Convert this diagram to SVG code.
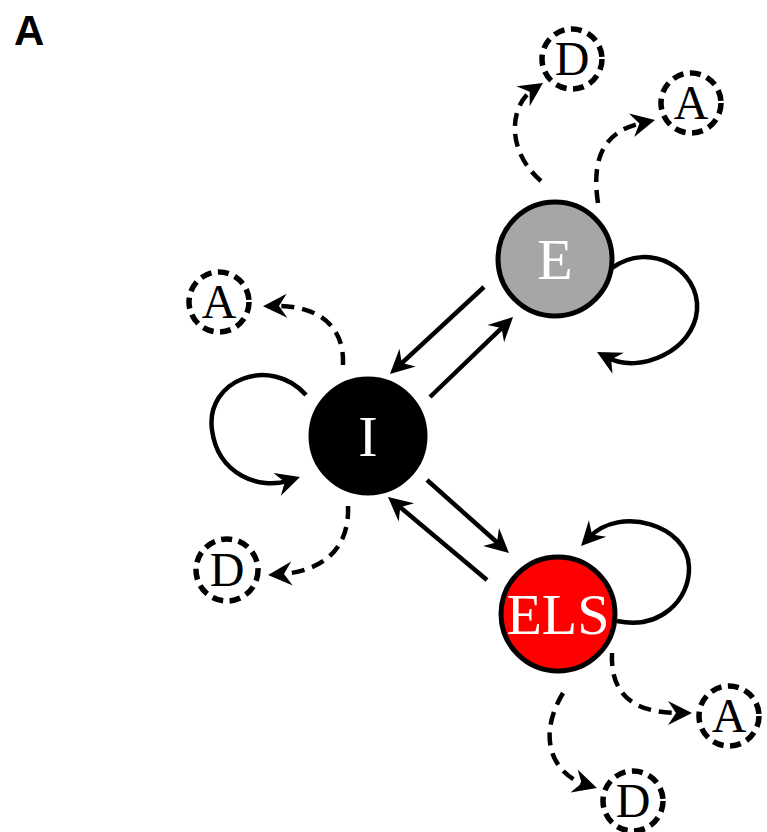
<svg xmlns="http://www.w3.org/2000/svg" width="767" height="832" viewBox="0 0 767 832">
  <style>
    .state { stroke: #000; stroke-width: 5; }
    .state-label { font-family: "Liberation Serif", "Times New Roman", serif; font-size: 58px; fill: #fff; text-anchor: middle; }
    .outcome { fill: #fff; stroke: #000; stroke-width: 5.5; stroke-dasharray: 11 6.5; }
    .outcome-label { font-family: "Liberation Serif", "Times New Roman", serif; font-size: 48px; fill: #000; text-anchor: middle; }
    .edge { fill: none; stroke: #000; stroke-width: 4.5; marker-end: url(#head); }
    .edge-dashed { fill: none; stroke: #000; stroke-width: 4.5; stroke-dasharray: 13 8; marker-end: url(#head); }
    .panel { font-family: "Liberation Sans", Arial, sans-serif; font-weight: bold; font-size: 42px; fill: #000; }
  </style>
  <defs>
    <marker id="head" viewBox="-26 -13 28 26" refX="-12" refY="0" markerWidth="28" markerHeight="26" markerUnits="userSpaceOnUse" orient="auto">
      <path d="M0,0 L-24,-12 L-16,0 L-24,12 Z" fill="#000" stroke="none"/>
    </marker>
  </defs>
  <rect width="767" height="832" fill="#fff"/>

  <text class="panel" x="14" y="45">A</text>

  <!-- transitions, self-loops and outcome arrows -->
  <g id="connectors">
    <path class="edge" d="M484,287 L398.8,365.8"/>
    <path class="edge" d="M430,397 L504.4,325.3"/>
    <path class="edge" d="M427,480 L500,545"/>
    <path class="edge" d="M487,580 L397.2,504.7"/>

    <path class="edge" d="M306,395 C270,355 205,380 212,430 C218,475 260,490 288.6,480.7"/>
    <path class="edge" d="M612,268 C650,240 700,270 697,310 C694,350 640,375 607.6,357.6"/>
    <path class="edge" d="M617,621 C660,630 690,600 689,567 C688,525 620,505 589.3,537.3"/>

    <path class="edge-dashed" d="M541,181 C505,150 510,105 533,89.6"/>
    <path class="edge-dashed" d="M598,203 C590,150 610,130 643.3,122.6"/>
    <path class="edge-dashed" d="M343,365 C345,320 310,305 275,306"/>
    <path class="edge-dashed" d="M348,506 C350,555 315,572 280,574.2"/>
    <path class="edge-dashed" d="M612,653 C610,700 640,713 680,713"/>
    <path class="edge-dashed" d="M563,693 C535,740 555,775 585.5,784.5"/>
  </g>

  <g id="node-E">
    <circle class="state" cx="555" cy="259" r="57" fill="#a6a6a6"/>
    <text class="state-label" x="555" y="279">E</text>
  </g>
  <g id="node-I">
    <circle class="state" cx="368" cy="436" r="57" fill="#000"/>
    <text class="state-label" x="368" y="456">I</text>
  </g>
  <g id="node-ELS">
    <circle class="state" cx="558" cy="614" r="57" fill="#ff0000"/>
    <text class="state-label" x="558" y="634">ELS</text>
  </g>

  <g id="node-E-D">
    <circle class="outcome" cx="572" cy="59" r="30"/>
    <text class="outcome-label" x="572" y="75">D</text>
  </g>
  <g id="node-E-A">
    <circle class="outcome" cx="691" cy="103" r="30"/>
    <text class="outcome-label" x="691" y="119">A</text>
  </g>
  <g id="node-I-A">
    <circle class="outcome" cx="219" cy="302" r="30"/>
    <text class="outcome-label" x="219" y="318">A</text>
  </g>
  <g id="node-I-D">
    <circle class="outcome" cx="227" cy="570" r="31"/>
    <text class="outcome-label" x="227" y="586">D</text>
  </g>
  <g id="node-ELS-A">
    <circle class="outcome" cx="729" cy="716" r="30"/>
    <text class="outcome-label" x="729" y="732">A</text>
  </g>
  <g id="node-ELS-D">
    <circle class="outcome" cx="633" cy="801" r="30"/>
    <text class="outcome-label" x="633" y="817">D</text>
  </g>
</svg>
